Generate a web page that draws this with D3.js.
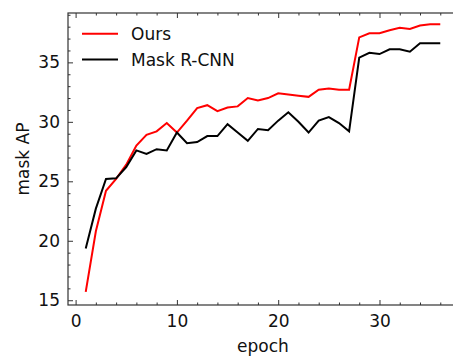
<!DOCTYPE html>
<html><head><meta charset="utf-8">
<script src="https://cdn.jsdelivr.net/npm/d3@7"></script>
<style>body{margin:0;background:#fff}svg{display:block}text{font-family:"DejaVu Sans",sans-serif}</style>
</head><body>
<script>
const epochs = d3.range(1, 37);
const ours = [15.7,20.8,24.2,25.2,26.4,28.0,28.9,29.2,29.9,29.1,30.1,31.15,31.4,30.9,31.2,31.3,32.0,31.8,32.0,32.4,32.3,32.2,32.1,32.7,32.8,32.7,32.7,37.1,37.45,37.45,37.7,37.9,37.8,38.1,38.2,38.2];
const maskrcnn = [19.35,22.7,25.2,25.25,26.2,27.6,27.3,27.7,27.6,29.1,28.2,28.3,28.8,28.8,29.8,29.1,28.4,29.4,29.3,30.1,30.8,30.0,29.1,30.1,30.4,29.9,29.2,35.4,35.8,35.7,36.1,36.1,35.9,36.6,36.6,36.6];
const xTicks = [0,10,20,30];
const yTicks = [15,20,25,30,35];
const seriesNames = ["Ours","Mask R-CNN"];
const seriesColors = ["#ff0000","#000000"];

const W = 453, H = 356;
const L = 68, R = 458, T = 13, B = 305;
const FS = "17px";
const svg = d3.select("body").append("svg").attr("width", W).attr("height", H);
const x = d3.scaleLinear().domain([-0.75, 37.75]).range([L, R]);
const y = d3.scaleLinear().domain([14.6, 39.15]).range([B, T]);

const minorX = d3.range(0, 38, 2).filter(v => !xTicks.includes(v));
const minorY = d3.range(15, 40, 1).filter(v => !yTicks.includes(v));
const MAJ = 5, MIN = 2.5, col = "#333";

function style(g){ g.select(".domain").remove(); g.selectAll("line").attr("stroke", col).attr("stroke-width", 1); g.selectAll("text").attr("fill","#111").style("font-size",FS); }

// bottom
svg.append("g").attr("transform",`translate(0,${B})`).call(d3.axisBottom(x).tickValues(xTicks).tickSizeInner(-MAJ).tickSizeOuter(0).tickPadding(9.5).tickFormat(d3.format("d"))).call(style);
svg.append("g").attr("transform",`translate(0,${B})`).call(d3.axisBottom(x).tickValues(minorX).tickSizeInner(-MIN).tickSizeOuter(0).tickFormat("")).call(style);
// top
svg.append("g").attr("transform",`translate(0,${T})`).call(d3.axisTop(x).tickValues(xTicks).tickSizeInner(-MAJ).tickSizeOuter(0).tickFormat("")).call(style);
svg.append("g").attr("transform",`translate(0,${T})`).call(d3.axisTop(x).tickValues(minorX).tickSizeInner(-MIN).tickSizeOuter(0).tickFormat("")).call(style);
// left
svg.append("g").attr("transform",`translate(${L},0)`).call(d3.axisLeft(y).tickValues(yTicks).tickSizeInner(-MAJ).tickSizeOuter(0).tickPadding(8).tickFormat(d3.format("d"))).call(style);
svg.append("g").attr("transform",`translate(${L},0)`).call(d3.axisLeft(y).tickValues(minorY).tickSizeInner(-MIN).tickSizeOuter(0).tickFormat("")).call(style);
// right
svg.append("g").attr("transform",`translate(${R},0)`).call(d3.axisRight(y).tickValues(yTicks).tickSizeInner(-MAJ).tickSizeOuter(0).tickFormat("")).call(style);
svg.append("g").attr("transform",`translate(${R},0)`).call(d3.axisRight(y).tickValues(minorY).tickSizeInner(-MIN).tickSizeOuter(0).tickFormat("")).call(style);

// frame
svg.append("rect").attr("x",L).attr("y",T).attr("width",R-L).attr("height",B-T).attr("fill","none").attr("stroke",col).attr("stroke-width",1.2);

const line = d3.line().x((d,i)=>x(epochs[i])).y(d=>y(d));
[ours, maskrcnn].forEach((s,k)=>{
  svg.append("path").datum(s).attr("d", line).attr("fill","none").attr("stroke", seriesColors[k]).attr("stroke-width", 2).attr("stroke-linejoin","miter");
});

// legend
seriesNames.forEach((n,k)=>{
  const ly = 33.8 + k*25.6;
  svg.append("line").attr("x1",82).attr("x2",118).attr("y1",ly).attr("y2",ly).attr("stroke",seriesColors[k]).attr("stroke-width",2);
  svg.append("text").attr("x",131).attr("y",ly).attr("dy","0.36em").style("font-size",FS).attr("fill","#111").text(n);
});

// axis labels
svg.append("text").attr("x",(L+R)/2).attr("y",352).attr("text-anchor","middle").style("font-size",FS).attr("fill","#111").text("epoch");
svg.append("text").attr("transform",`translate(29,${(T+B)/2}) rotate(-90)`).attr("text-anchor","middle").style("font-size",FS).attr("fill","#111").text("mask AP");
</script>
</body></html>
